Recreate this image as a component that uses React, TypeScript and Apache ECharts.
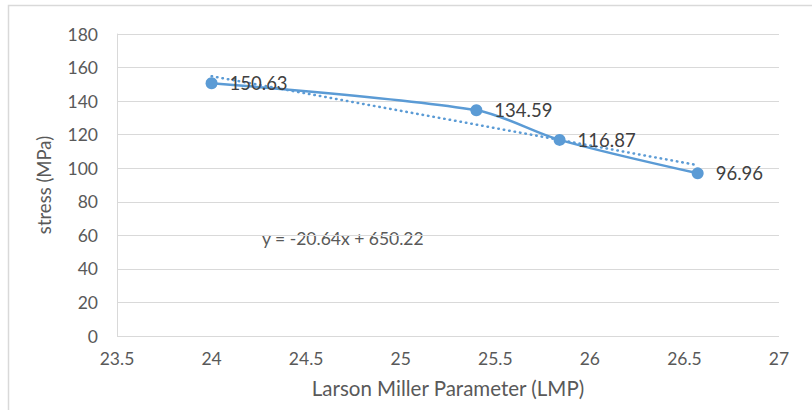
import React, { useEffect, useRef } from "react";
import * as echarts from "echarts";

const lmp = [24, 25.4, 25.84, 26.57];
const stress = [150.63, 134.59, 116.87, 96.96];
const slope = -20.64;
const intercept = 650.22;
const trendX = [24, 26.57];
const equationText = "y = -20.64x + 650.22";
const xTitle = "Larson Miller Parameter (LMP)";
const yTitle = "stress (MPa)";

const FONT = "Lato, 'Open Sans', sans-serif";

export default function App() {
  const ref = useRef<HTMLDivElement>(null);
  useEffect(() => {
    if (!ref.current) return;
    const chart = echarts.init(ref.current, null, { renderer: "svg" });
    const points = lmp.map((x, i) => [x, stress[i]]);
    const trend = trendX.map((x) => [x, +(slope * x + intercept).toFixed(2)]);
    chart.setOption({
      animation: false,
      backgroundColor: "#fff",
      textStyle: { fontFamily: FONT },
      grid: { left: 117, right: 33, top: 34, bottom: 74 },
      xAxis: {
        type: "value",
        min: 23.5,
        max: 27,
        interval: 0.5,
        name: xTitle,
        nameLocation: "middle",
        nameGap: 41,
        nameTextStyle: { fontSize: 20.5, color: "#595959", fontFamily: FONT },
        axisLine: { show: false },
        axisTick: { show: false },
        splitLine: { show: false },
        axisLabel: { fontSize: 17.5, color: "#595959", margin: 13, fontFamily: FONT },
      },
      yAxis: {
        type: "value",
        min: 0,
        max: 180,
        interval: 20,
        name: yTitle,
        nameLocation: "middle",
        nameGap: 64,
        nameTextStyle: { fontSize: 18.5, color: "#595959", fontFamily: FONT },
        axisLine: { show: true, lineStyle: { color: "#d9d9d9", width: 1 } },
        axisTick: { show: false },
        splitLine: { show: true, lineStyle: { color: "#d9d9d9", width: 1 } },
        axisLabel: { fontSize: 17.5, color: "#595959", margin: 19, fontFamily: FONT },
      },
      graphic: [
        {
          type: "rect",
          shape: { x: 8.5, y: 5.5, width: 820, height: 420 },
          style: { fill: "none", stroke: "#d9d9d9", lineWidth: 1.5 },
          silent: true,
          z: -1,
        },
        {
          type: "text",
          left: 262,
          top: 229,
          style: { text: equationText, fontSize: 17.5, fill: "#595959", fontFamily: FONT },
        },
      ],
      series: [
        {
          type: "line",
          data: trend,
          showSymbol: false,
          symbol: "none",
          lineStyle: { color: "#5B9BD5", width: 2.5, type: [0.5, 5] as any, cap: "round" },
          z: 1,
        },
        {
          type: "line",
          data: points,
          smooth: 0.3,
          symbol: "circle",
          symbolSize: 12,
          itemStyle: { color: "#5B9BD5" },
          lineStyle: { color: "#5B9BD5", width: 2.5 },
          label: {
            show: true,
            position: "right",
            distance: 12,
            fontSize: 18.5,
            color: "#404040",
            fontFamily: FONT,
            formatter: (p: any) => p.value[1].toFixed(2),
          },
          z: 2,
        },
      ],
    });
    return () => chart.dispose();
  }, []);
  return (
    <div
      ref={ref}
      style={{ position: "absolute", left: 0, top: 0, width: 812, height: 410 }}
    />
  );
}
